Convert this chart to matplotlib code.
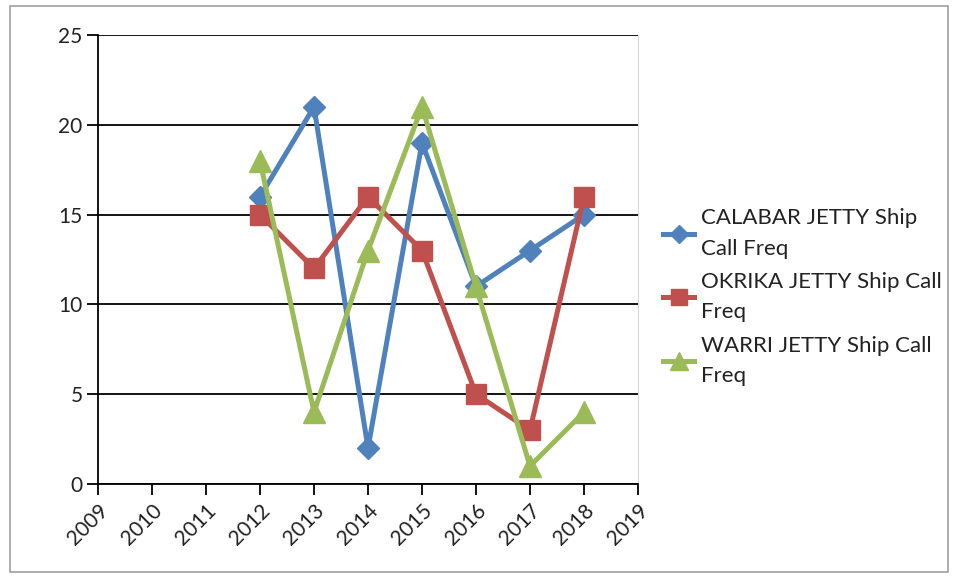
import matplotlib
matplotlib.use("Agg")
import matplotlib.pyplot as plt
from matplotlib.patches import Rectangle

years = [2012, 2013, 2014, 2015, 2016, 2017, 2018]
calabar = [16, 21, 2, 19, 11, 13, 15]
okrika = [15, 12, 16, 13, 5, 3, 16]
warri = [18, 4, 13, 21, 11, 1, 4]
series_names = ["CALABAR JETTY Ship\nCall Freq",
                "OKRIKA JETTY Ship Call\nFreq",
                "WARRI JETTY Ship Call\nFreq"]
x_ticks = list(range(2009, 2020))
y_ticks = [0, 5, 10, 15, 20, 25]

plt.rcParams['font.family'] = ['Lato', 'DejaVu Sans']

fig = plt.figure(figsize=(9.55, 5.78), dpi=100)
fig.patches.append(Rectangle((10 / 955, 6 / 578), 938 / 955, 566 / 578,
                             transform=fig.transFigure, fill=False,
                             edgecolor="#a0a0a0", linewidth=1.2))

ax = fig.add_axes([98 / 955, 94 / 578, 540 / 955, 449 / 578])

ax.plot(years, calabar, color="#4F81BD", lw=3.6, marker="D", ms=11,
        label=series_names[0], zorder=3)
ax.plot(years, okrika, color="#C0504D", lw=3.6, marker="s", ms=14,
        label=series_names[1], zorder=3)
ax.plot(years, warri, color="#9BBB59", lw=3.6, marker="^", ms=16,
        label=series_names[2], zorder=3)

ax.set_xlim(2009, 2019)
ax.set_ylim(0, 25)
ax.set_xticks(x_ticks)
ax.set_yticks(y_ticks)
ax.set_xticklabels([str(v) for v in x_ticks], rotation=45, ha="right",
                   rotation_mode="anchor", fontsize=15, color="#222222")
ax.set_yticklabels([str(v) for v in y_ticks], fontsize=15, color="#222222")
ax.tick_params(axis="both", direction="out", length=8, width=1.3, color="black")
ax.tick_params(axis="x", pad=4)
ax.tick_params(axis="y", pad=3)

ax.grid(axis="y", color="black", lw=1.3)
ax.set_axisbelow(True)
ax.spines["top"].set_visible(False)
ax.spines["right"].set_color("#d8d8d8")
ax.spines["left"].set_linewidth(1.3)
ax.spines["bottom"].set_linewidth(1.3)

leg = fig.legend(loc="center left", bbox_to_anchor=(643 / 955, 0.486),
                 frameon=False, fontsize=16, handlelength=1.4,
                 labelspacing=0.6, handletextpad=0.3, markerscale=0.85)
for t in leg.get_texts():
    t.set_linespacing(1.65)
    t.set_color("#222222")

fig.savefig("out.png", dpi=100)
